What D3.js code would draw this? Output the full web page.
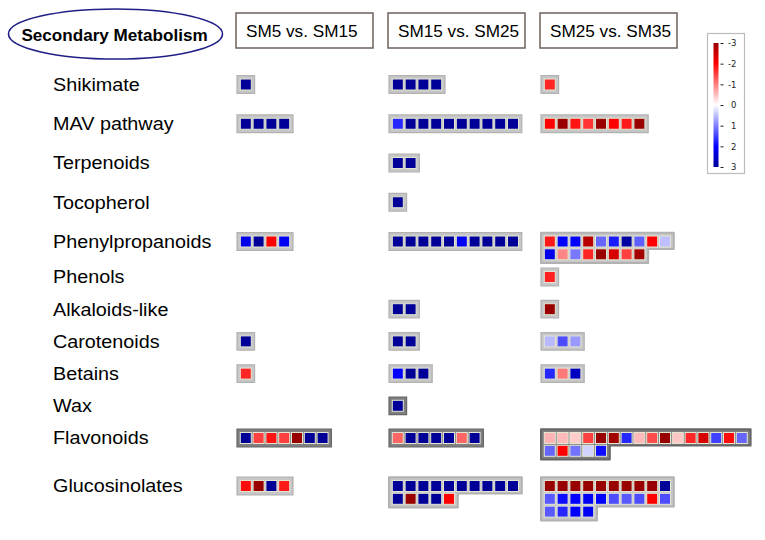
<!DOCTYPE html>
<html><head><meta charset="utf-8">
<script src="https://cdn.jsdelivr.net/npm/d3@7"></script>
<style>body{margin:0;background:#fff}</style>
</head><body>
<svg id="chart" width="765" height="540"></svg>
<script>
// ---------------- DATA ----------------
const titleText = "Secondary Metabolism";
const categories = ["Shikimate", "MAV pathway", "Terpenoids", "Tocopherol", "Phenylpropanoids",
  "Phenols", "Alkaloids-like", "Carotenoids", "Betains", "Wax", "Flavonoids", "Glucosinolates"];
const comparisons = ["SM5 vs. SM15", "SM15 vs. SM25", "SM25 vs. SM35"];
const legendTicks = [-3, -2, -1, 0, 1, 2, 3];

// each entry: rows of cell values for one category (null = no genes)
const sm5vs15 = [
  [[3]],
  [[3, 3, 3, 3]],
  null,
  null,
  [[2.2, 3, -2, 2.1]],
  null,
  null,
  [[3]],
  [[-1.7]],
  null,
  [[3, -1.5, -1.85, -1.5, -3, 3, 3]],
  [[-1.9, -3, 3, -1.8]]
];
const sm15vs25 = [
  [[3, 3, 3, 3]],
  [[1.7, 3, 3, 3, 3, 3, 3, 3, 3, 3]],
  [[3, 3]],
  [[3]],
  [[3, 3, 3, 3, 3, 2.1, 3, 3, 3, 3]],
  null,
  [[3, 3]],
  [[3, 3]],
  [[2, 3, 3]],
  [[3]],
  [[-1.2, 3, 3, 3, 3, -1.2, 3]],
  [[3, 3, 3, 3, 3, 3, 3, 3, 3, 3], [3, -3, 3, 3, -2]]
];
const sm25vs35 = [
  [[-1.7]],
  [[-2, -3, -1.85, -1.6, -3, -2, -1.8, -3]],
  null,
  null,
  [[-1.8, 2, 2, -2.7, 1.2, 1.8, 2.9, 1.25, -2, 0.5], [2.2, -0.95, 1.05, -1.7, -3, -2.4, -1.5, -2.9]],
  [[-1.75]],
  [[-3]],
  [[0.55, 1.4, 0.8]],
  [[1.7, -1.05, 2.6]],
  null,
  [[-0.6, -0.55, -0.4, -1.5, -3, -2.9, 1.7, -0.55, -1.4, -3, -0.45, -1.7, -2.4, 1.5, -1.9, 1.2], [1.2, -2, 1.1, 0.35, 1.9]],
  [[-3, -3, -3, -3, -3, -3, -3, -3, -3, 3], [1.3, 1.9, 2, 2.1, 2, 1.4, 1.3, 1.4, -2, 1.4], [1.3, 1.7, 2, 2.1]]
];
const seriesByComparison = [sm5vs15, sm15vs25, sm25vs35];

// ---------------- DRAW ----------------
const svg = d3.select("#chart");
const FONT = "Arial, 'Liberation Sans', sans-serif";

const color = d3.scaleLinear()
  .domain([-3, -2, 0, 2, 3])
  .range(["#990000", "#ff0000", "#ffffff", "#0000ff", "#000099"])
  .clamp(true);

const x = d3.scaleBand().domain(comparisons).range([236, 677]).paddingInner(0.0987);
const y = d3.scaleLinear().domain([0, 4, 5, 10, 11]).range([84.5, 241.5, 277, 438, 486]);
const pitch = 12.8, pad = 2.4, cell = 11;
const darkCats = new Set(["Wax", "Flavonoids"]);

// title
svg.append("ellipse").attr("cx", 115.5).attr("cy", 34).attr("rx", 107).attr("ry", 25)
  .attr("fill", "none").attr("stroke", "#1f1f86").attr("stroke-width", 1.6);
svg.append("text").attr("transform", "translate(114.5,40.7) scale(1.07,1)")
  .attr("text-anchor", "middle").attr("font-family", FONT).attr("font-weight", "bold")
  .attr("font-size", 16).attr("fill", "#000").text(titleText);

// column headers
const hdr = svg.selectAll("g.hdr").data(comparisons).join("g").attr("class", "hdr")
  .attr("transform", d => `translate(${x(d)},13)`);
hdr.append("rect").attr("width", x.bandwidth()).attr("height", 35)
  .attr("fill", "#fff").attr("stroke", "#6e625b").attr("stroke-width", 1.5);
hdr.append("text").attr("transform", "translate(10,23.7) scale(1.04,1)")
  .attr("font-family", FONT).attr("font-size", 16.5).attr("fill", "#000").text(d => d);

// row labels
svg.selectAll("text.lab").data(categories).join("text").attr("class", "lab")
  .attr("transform", (d, i) => `translate(53,${y(i) + 6.3}) scale(1.07,1)`)
  .attr("font-family", FONT).attr("font-size", 18.5).attr("fill", "#000").text(d => d);

// group outline
function outline(lens) {
  const p = d3.path();
  const n = lens.length;
  const right = l => 2 * pad + l * pitch;
  p.moveTo(0, 0);
  p.lineTo(right(lens[0]), 0);
  for (let r = 0; r < n; r++) {
    const bottom = r === n - 1 ? 2 * pad + n * pitch : pad + (r + 1) * pitch + pad / 2;
    p.lineTo(right(lens[r]), bottom);
    if (r < n - 1) p.lineTo(right(lens[r + 1]), bottom);
  }
  p.lineTo(0, 2 * pad + n * pitch);
  p.closePath();
  return p.toString();
}

const groups = [];
comparisons.forEach((c, ci) => {
  seriesByComparison[ci].forEach((rows, ri) => {
    if (rows) groups.push({ comp: c, cat: categories[ri], ri, rows });
  });
});

const gsel = svg.selectAll("g.grp").data(groups).join("g").attr("class", "grp")
  .attr("transform", d => `translate(${x(d.comp) + 1},${y(d.ri) - pitch / 2 - pad})`);
gsel.append("path").attr("d", d => outline(d.rows.map(r => r.length)))
  .attr("fill", d => darkCats.has(d.cat) ? "#7f7f7f" : "#c6c6c6")
  .attr("stroke", d => darkCats.has(d.cat) ? "#666" : "#b2b2b2")
  .attr("stroke-width", d => d.rows.length > 1 ? 2 : 1.2)
  .attr("stroke-linejoin", d => d.rows.length > 1 ? "round" : "miter");
gsel.selectAll("rect.cell")
  .data(d => d.rows.flatMap((r, rr) => r.map((v, k) => ({ v, rr, k }))))
  .join("rect").attr("class", "cell")
  .attr("x", d => pad + d.k * pitch + (pitch - cell) / 2)
  .attr("y", d => pad + d.rr * pitch + (pitch - cell) / 2)
  .attr("width", cell).attr("height", cell)
  .attr("fill", d => color(d.v))
  .attr("stroke", "#e3e5d2").attr("stroke-width", 1);

// legend
const ly = d3.scaleLinear().domain([-3, 3]).range([43, 167]);
const defs = svg.append("defs");
const grad = defs.append("linearGradient").attr("id", "lgGrad")
  .attr("x1", 0).attr("y1", 0).attr("x2", 0).attr("y2", 1);
d3.range(-3, 3.01, 0.25).forEach(t => {
  grad.append("stop").attr("offset", (t + 3) / 6).attr("stop-color", color(t));
});
svg.append("rect").attr("x", 707.5).attr("y", 33.5).attr("width", 37).attr("height", 140)
  .attr("fill", "#fff").attr("stroke", "#bcbcbc").attr("stroke-width", 1.2);
svg.append("rect").attr("x", 713.5).attr("y", ly(-3)).attr("width", 5)
  .attr("height", ly(3) - ly(-3)).attr("fill", "url(#lgGrad)");
const ax = svg.append("g").attr("transform", "translate(720.5,0)")
  .call(d3.axisRight(ly).tickValues(legendTicks).tickSize(3).tickPadding(2)
    .tickFormat(d => String(d)));
ax.select(".domain").remove();
ax.selectAll(".tick line").attr("stroke", "#222");
ax.selectAll(".tick text").attr("text-anchor", "end").attr("x", 16)
  .attr("font-family", "'DejaVu Sans', sans-serif").attr("font-size", 8.5).attr("fill", "#222");
</script>
</body></html>
